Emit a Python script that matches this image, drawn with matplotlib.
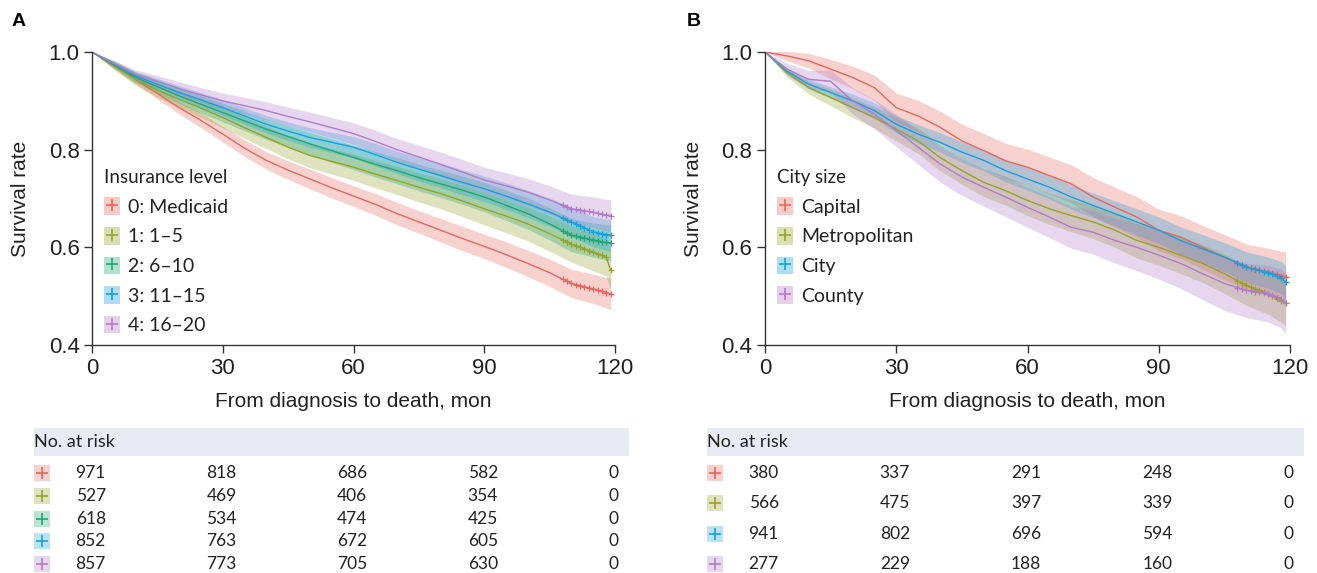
import numpy as np
import matplotlib
matplotlib.use("Agg")
import matplotlib.pyplot as plt
from matplotlib.patches import Patch, Rectangle
from matplotlib.lines import Line2D

plt.rcParams['font.family'] = ['Lato', 'DejaVu Sans']
narrow = ['Liberation Sans Narrow', 'Liberation Sans', 'DejaVu Sans']

# ---------------- data ----------------
months = [0, 5, 10, 15, 20, 25, 30, 35, 40, 45, 50, 55, 60, 65, 70, 75,
          80, 85, 90, 95, 100, 105, 110, 115, 118, 119]

# panel A: insurance level
ins_labels = ["0: Medicaid", "1: 1\u20135", "2: 6\u201310", "3: 11\u201315", "4: 16\u201320"]
surv_med = [1.0, .972, .944, .915, .886, .860, .832, .803, .778, .758, .740, .722, .705,
            .688, .669, .652, .635, .618, .602, .585, .567, .548, .526, .515, .507, .505]
surv_1_5 = [1.0, .972, .944, .922, .903, .885, .866, .845, .825, .805, .788, .776, .764,
            .750, .737, .723, .710, .695, .679, .664, .648, .628, .607, .590, .580, .553]
surv_6_10 = [1.0, .974, .948, .929, .910, .893, .876, .859, .842, .827, .812, .798, .784,
             .770, .757, .743, .730, .717, .703, .686, .669, .648, .625, .615, .610, .609]
surv_11_15 = [1.0, .976, .951, .934, .917, .902, .886, .869, .852, .838, .825, .815, .805,
              .790, .774, .760, .747, .733, .720, .705, .689, .672, .652, .632, .626, .625]
surv_16_20 = [1.0, .977, .954, .940, .925, .912, .900, .890, .880, .868, .857, .845, .833,
              .817, .800, .785, .770, .754, .738, .726, .713, .697, .679, .672, .666, .665]

ci_med = [0, .006, .009, .011, .013, .015, .016, .017, .018, .019, .020, .021, .021,
          .022, .023, .023, .024, .025, .025, .026, .027, .028, .029, .030, .031, .033]
ci_1_5 = [0, .008, .012, .015, .017, .019, .021, .022, .023, .024, .025, .026, .027,
          .028, .029, .030, .031, .032, .033, .034, .035, .036, .037, .038, .039, .040]
ci_6_10 = [0, .007, .011, .014, .016, .018, .019, .020, .021, .022, .023, .024, .025,
           .026, .027, .027, .028, .029, .030, .031, .032, .033, .034, .035, .036, .037]
ci_11_15 = [0, .006, .009, .012, .014, .015, .016, .017, .018, .019, .020, .021, .022,
            .023, .023, .024, .025, .026, .026, .027, .028, .029, .030, .031, .032, .033]
ci_16_20 = [0, .006, .009, .012, .014, .015, .016, .017, .018, .019, .020, .021, .022,
            .023, .023, .024, .025, .026, .026, .027, .028, .029, .030, .031, .032, .033]

risk_ins = [[971, 818, 686, 582, 0],
            [527, 469, 406, 354, 0],
            [618, 534, 474, 425, 0],
            [852, 763, 672, 605, 0],
            [857, 773, 705, 630, 0]]

# panel B: city size
city_labels = ["Capital", "Metropolitan", "City", "County"]
surv_capital = [1.0, .992, .982, .965, .948, .927, .886, .869, .846, .818, .798, .777, .764,
                .747, .730, .703, .682, .662, .635, .621, .600, .580, .560, .550, .542, .540]
surv_metro = [1.0, .958, .927, .907, .886, .866, .842, .818, .784, .757, .733, .716, .696,
              .679, .665, .652, .635, .614, .600, .584, .567, .546, .522, .505, .490, .485]
surv_city = [1.0, .961, .934, .917, .900, .880, .852, .832, .815, .795, .778, .757, .740,
             .723, .703, .686, .669, .652, .635, .614, .597, .580, .560, .548, .538, .529]
surv_county = [1.0, .965, .944, .940, .900, .873, .839, .805, .771, .744, .723, .703, .682,
               .662, .641, .631, .614, .600, .584, .567, .546, .526, .512, .505, .495, .485]

ci_capital = [0, .010, .015, .020, .023, .026, .030, .032, .033, .034, .035, .036, .037,
              .038, .039, .040, .041, .042, .043, .044, .045, .046, .047, .048, .050, .052]
ci_metro = [0, .009, .013, .017, .020, .022, .024, .026, .027, .028, .029, .030, .031,
            .032, .033, .034, .035, .036, .037, .038, .039, .040, .041, .042, .044, .046]
ci_city = [0, .007, .010, .012, .014, .016, .018, .019, .020, .021, .022, .023, .023,
           .024, .025, .025, .026, .027, .027, .028, .029, .030, .031, .032, .033, .034]
ci_county = [0, .012, .018, .023, .027, .030, .033, .035, .037, .038, .039, .040, .041,
             .042, .043, .045, .046, .048, .049, .051, .053, .055, .056, .058, .060, .062]

risk_city = [[380, 337, 291, 248, 0],
             [566, 475, 397, 339, 0],
             [941, 802, 696, 594, 0],
             [277, 229, 188, 160, 0]]

censor_times = [108, 109, 110, 111, 112, 113, 114, 115, 116, 117, 118, 119]
risk_times = [0, 30, 60, 90, 120]

col_red = "#e5685f"
col_olive = "#97a228"
col_green = "#1fa873"
col_blue = "#1a9fdb"
col_purple = "#b27bc8"

ins_colors = [col_red, col_olive, col_green, col_blue, col_purple]
city_colors = [col_red, col_olive, col_blue, col_purple]

W, H = 1317, 573
fig = plt.figure(figsize=(W / 100, H / 100), dpi=100)


def px_box(x0, x1, y0, y1):
    return [x0 / W, 1 - y1 / H, (x1 - x0) / W, (y1 - y0) / H]


def km_panel(ax, curves, cis, colors, labels, title):
    t = np.array(months)
    for s, ci, c in zip(curves, cis, colors):
        s = np.array(s)
        ci = np.array(ci)
        ax.fill_between(t, s - ci, s + ci, color=c, alpha=0.3, linewidth=0)
        ax.plot(t, s, color=c, lw=1.0)
        cy = np.interp(censor_times, t, s)
        ax.plot(censor_times, cy, linestyle='none', marker='+', color=c,
                markersize=5, markeredgewidth=0.9)
    ax.set_xlim(0, 120)
    ax.set_ylim(0.4, 1.0)
    ax.set_xticks([0, 30, 60, 90, 120])
    ax.set_yticks([0.4, 0.6, 0.8, 1.0])
    ax.set_yticklabels(["0.4", "0.6", "0.8", "1.0"])
    for sp in ['top', 'right']:
        ax.spines[sp].set_visible(False)
    for sp in ['left', 'bottom']:
        ax.spines[sp].set_color('#333333')
        ax.spines[sp].set_linewidth(1.0)
    ax.tick_params(length=6, width=1, color='#333333', labelsize=16, pad=3)
    for lab in ax.get_xticklabels() + ax.get_yticklabels():
        lab.set_family(narrow)
        lab.set_color('#222222')
    ax.set_xlabel("From diagnosis to death, mon", fontsize=15, family=narrow,
                  color='#222222', labelpad=10)
    ax.set_ylabel("Survival rate", fontsize=15, family=narrow, color='#222222',
                  labelpad=13)
    handles = [(Patch(facecolor=c, alpha=0.35, edgecolor='none'),
                Line2D([], [], color=c, marker='+', linestyle='none',
                       markersize=8, markeredgewidth=1.2)) for c in colors]
    leg = ax.legend(handles, labels, title=title, loc='upper left',
                    bbox_to_anchor=(0.022, 0.600), frameon=False, fontsize=14,
                    title_fontsize=13.5, handlelength=0.85, handleheight=1.0,
                    handletextpad=0.4, labelspacing=0.58, borderpad=0,
                    borderaxespad=0, alignment='left')
    leg.get_title().set_color('#222222')
    for txt in leg.get_texts():
        txt.set_color('#222222')


def risk_table(ax, risk, colors):
    n = len(risk)
    ax.set_xlim(0, 120)
    ax.set_ylim(573, 428)
    ax.axis('off')
    ax.add_patch(Rectangle((-13.3, 428), 136.5, 28, facecolor='#e8ebf4',
                           edgecolor='none', clip_on=False))
    ax.text(-13.3, 442, "No. at risk", fontsize=13, va='center', ha='left',
            color='#222222')
    ys = np.linspace(473, 564, n)
    for row, c, y in zip(risk, colors, ys):
        ax.add_patch(Rectangle((-13.3, y - 8), 3.6, 16, facecolor=c, alpha=0.3,
                               edgecolor='none', clip_on=False))
        ax.plot([-11.5], [y], marker='+', color=c, markersize=8,
                markeredgewidth=1.2, clip_on=False)
        for tx, v in zip(risk_times, row):
            ax.text(tx - 0.3, y, str(v), fontsize=12.5, ha='center', va='center',
                    color='#222222')


axA = fig.add_axes(px_box(92, 615, 52, 345))
km_panel(axA, [surv_med, surv_1_5, surv_6_10, surv_11_15, surv_16_20],
         [ci_med, ci_1_5, ci_6_10, ci_11_15, ci_16_20], ins_colors, ins_labels,
         "Insurance level")
axB = fig.add_axes(px_box(765, 1290, 52, 345))
km_panel(axB, [surv_capital, surv_metro, surv_city, surv_county],
         [ci_capital, ci_metro, ci_city, ci_county], city_colors, city_labels,
         "City size")

tA = fig.add_axes(px_box(92, 615, 428, 573))
risk_table(tA, risk_ins, ins_colors)
tB = fig.add_axes(px_box(765, 1290, 428, 573))
risk_table(tB, risk_city, city_colors)

fig.text(12 / W, 1 - 22 / H, "A", fontsize=14, fontweight='bold', va='center',
         family=narrow)
fig.text(687 / W, 1 - 22 / H, "B", fontsize=14, fontweight='bold', va='center',
         family=narrow)

fig.savefig("out.png", dpi=100)
